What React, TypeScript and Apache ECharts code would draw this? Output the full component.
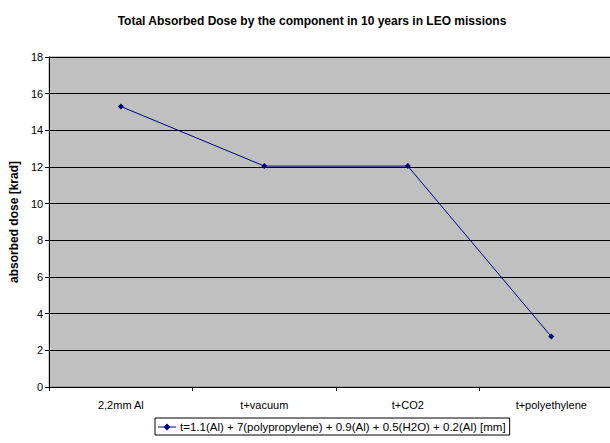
import React, { useEffect, useRef } from "react";
import * as echarts from "echarts";

const categories = ["2,2mm Al", "t+vacuum", "t+CO2", "t+polyethylene"];
const doseValues = [15.3, 12.05, 12.05, 2.75];
const seriesName = "t=1.1(Al) + 7(polypropylene) + 0.9(Al) + 0.5(H2O) + 0.2(Al) [mm]";
const titleText = "Total Absorbed Dose by the component in 10 years in LEO missions";
const yAxisName = "absorbed dose [krad]";

export default function App() {
  const ref = useRef<HTMLDivElement>(null);
  useEffect(() => {
    if (!ref.current) return;
    const chart = echarts.init(ref.current, null, { renderer: "svg" });
    const font = "Liberation Sans, Arial, sans-serif";
    chart.setOption({
      animation: false,
      backgroundColor: "#ffffff",
      title: {
        text: titleText,
        left: "center",
        top: 10,
        textStyle: { fontFamily: font, fontSize: 12, fontWeight: "bold", color: "#000" },
      },
      legend: {
        data: [
          {
            name: seriesName,
            icon: "path://M0,3.6L6,3.6L9,0.6L12,3.6L18,3.6L18,4.4L12,4.4L9,7.4L6,4.4L0,4.4Z",
          },
        ],
        left: 155,
        top: 418,
        padding: [3, 4, 2, 3],
        itemWidth: 18,
        itemHeight: 8,
        itemGap: 4,
        borderColor: "#000",
        borderWidth: 1,
        textStyle: { fontFamily: font, fontSize: 11.5, color: "#000", padding: [0, 0, 0, -1] },
      },
      grid: {
        left: 44,
        right: 1,
        top: 57,
        bottom: 56,
        show: true,
        backgroundColor: "#C0C0C0",
        borderColor: "#808080",
        borderWidth: 1,
      },
      xAxis: {
        type: "category",
        data: categories,
        boundaryGap: true,
        axisLine: { lineStyle: { color: "#000", width: 1 } },
        axisTick: { show: true, length: 4, lineStyle: { color: "#000" } },
        axisLabel: { fontFamily: font, fontSize: 11, color: "#000", margin: 12 },
      },
      yAxis: {
        type: "value",
        min: 0,
        max: 18,
        interval: 2,
        name: yAxisName,
        nameLocation: "middle",
        nameGap: 27,
        nameTextStyle: { fontFamily: font, fontSize: 12, fontWeight: "bold", color: "#000" },
        axisLine: { show: true, lineStyle: { color: "#000", width: 1 } },
        axisTick: { show: true, length: 4, lineStyle: { color: "#000" } },
        axisLabel: { fontFamily: font, fontSize: 11, color: "#000", margin: 6 },
        splitLine: { show: true, lineStyle: { color: "#000", width: 1 } },
      },
      series: [
        {
          name: seriesName,
          type: "line",
          data: doseValues,
          symbol: "diamond",
          symbolSize: 6,
          itemStyle: { color: "#000080" },
          lineStyle: { color: "#000080", width: 1 },
        },
      ],
    });
    return () => chart.dispose();
  }, []);
  return (
    <div style={{ position: "fixed", left: 0, top: 0, width: 610, height: 443, overflow: "hidden", background: "#fff" }}>
      <div ref={ref} style={{ width: 624, height: 443 }} />
    </div>
  );
}
